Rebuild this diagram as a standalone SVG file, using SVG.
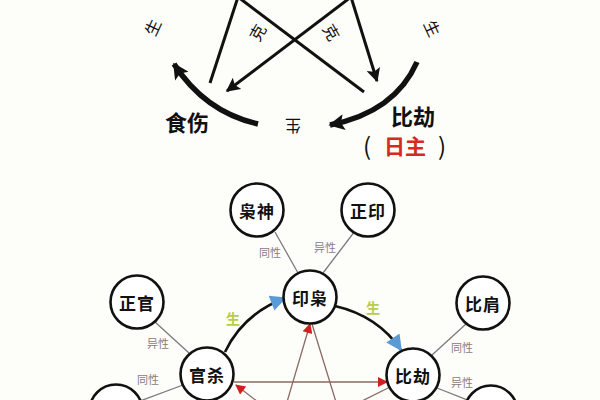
<svg xmlns="http://www.w3.org/2000/svg" width="600" height="400" viewBox="0 0 600 400">
<defs>
<style>
.bg{fill:#fdfdf9}
.thin{stroke:#111;stroke-width:3;fill:none}
.thick{stroke:#111;stroke-width:5.5;fill:none}
.node circle{fill:#fff;stroke:#111;stroke-width:2.6}
.node text{font-family:"Noto Sans CJK SC",sans-serif;font-weight:bold;font-size:17px;letter-spacing:1px;fill:#111;text-anchor:middle;dominant-baseline:central}
.gray{stroke:#7a7a7a;stroke-width:1.3;fill:none}
.red{stroke:#8a6a62;stroke-width:1.3;fill:none}
.lbl{font-family:"Noto Sans CJK SC",sans-serif;font-size:11px;fill:#8a7a86;text-anchor:middle;dominant-baseline:central}
.sheng{font-family:"Noto Sans CJK SC",sans-serif;font-size:14px;font-weight:bold;fill:#b8cc4a;text-anchor:middle;dominant-baseline:central}
.rot{font-family:"Noto Sans CJK SC",sans-serif;font-size:16px;fill:#111;text-anchor:middle;dominant-baseline:central}
.big{font-family:"Noto Sans CJK SC",sans-serif;font-weight:bold;font-size:22px;fill:#111;text-anchor:middle;dominant-baseline:central}
.zhu{font-family:"Noto Sans CJK SC",sans-serif;font-weight:bold;font-size:21px;fill:#d42a20;text-anchor:middle;dominant-baseline:central}
.paren{font-family:"Noto Sans CJK SC",sans-serif;font-size:24px;fill:#111;text-anchor:middle;dominant-baseline:central}
</style>
<marker id="ah" viewBox="0 0 10 10" refX="9" refY="5" markerWidth="18" markerHeight="16" markerUnits="userSpaceOnUse" orient="auto">
<path d="M0,0 L10,5 L0,10 L2,5 z" fill="#111"/>
</marker>
<marker id="ahs" viewBox="0 0 10 10" refX="9" refY="5" markerWidth="16" markerHeight="14" markerUnits="userSpaceOnUse" orient="auto">
<path d="M0,0 L10,5 L0,10 L2,5 z" fill="#111"/>
</marker>
<marker id="blue" viewBox="0 0 10 10" refX="9" refY="5" markerWidth="20" markerHeight="16" markerUnits="userSpaceOnUse" orient="auto">
<path d="M0,0 L10,5 L0,10 z" fill="#5b9bd5"/>
</marker>
<marker id="redh" viewBox="0 0 10 10" refX="9" refY="5" markerWidth="13" markerHeight="10" markerUnits="userSpaceOnUse" orient="auto">
<path d="M0,0 L10,5 L0,10 z" fill="#d0201c"/>
</marker>
</defs>
<rect class="bg" x="0" y="0" width="600" height="400"/>

<g id="connectors">
<line class="thin" x1="238" y1="-3" x2="210" y2="83"/>
<line class="thin" x1="238" y1="-3" x2="364" y2="92"/>
<line class="thin" x1="351" y1="-3" x2="377" y2="81" marker-end="url(#ahs)"/>
<line class="thin" x1="351" y1="-3" x2="227" y2="91" marker-end="url(#ahs)"/>
<path class="thick" d="M258,124 Q205,112 174,64" marker-end="url(#ah)"/>
<path class="thick" d="M417,62 Q395,112 330,125" marker-end="url(#ah)"/>

<line class="gray" x1="275" y1="232" x2="298" y2="273"/>
<line class="gray" x1="355" y1="231" x2="323" y2="273"/>
<line class="gray" x1="155" y1="322" x2="189" y2="353"/>
<line class="gray" x1="466" y1="324" x2="432" y2="355"/>
<line class="gray" x1="183" y1="385" x2="140" y2="401"/>
<line class="gray" x1="437" y1="388" x2="470" y2="401"/>

<path stroke="#111" stroke-width="2.6" fill="none" d="M225,352 Q243,314 285,298" marker-end="url(#blue)"/>
<path stroke="#111" stroke-width="2.6" fill="none" d="M335,306 Q378,316 401,350" marker-end="url(#blue)"/>

<line class="red" x1="234" y1="382" x2="387" y2="382" marker-end="url(#redh)"/>
<line class="red" x1="287" y1="402" x2="310" y2="324" marker-end="url(#redh)"/>
<line class="red" x1="312" y1="324" x2="336" y2="402"/>
<line class="red" x1="258" y1="402" x2="236" y2="385" marker-end="url(#redh)"/>
<line class="red" x1="390" y1="387" x2="360" y2="402"/>
</g>

<g id="top-labels">
<text class="rot" transform="translate(152,27) rotate(-65)">生</text>
<text class="rot" transform="translate(433,28) rotate(65)">生</text>
<text class="rot" transform="translate(293,127) rotate(180)">生</text>
<text class="rot" font-size="15" transform="translate(257,32) rotate(-60)">克</text>
<text class="rot" font-size="15" transform="translate(332,32) rotate(60)">克</text>
</g>

<g id="shishang"><text class="big" x="187" y="121">食伤</text></g>
<g id="bijie-top">
<text class="big" x="413" y="115" font-size="23">比劫</text>
<text class="paren" x="367" y="144">(</text>
<text class="zhu" x="405" y="145">日主</text>
<text class="paren" x="442" y="144">)</text>
</g>

<g id="xiaoshen" class="node"><circle cx="257" cy="210" r="26.5"/><text x="257" y="210">枭神</text></g>
<g id="zhengyin" class="node"><circle cx="368" cy="210" r="26.5"/><text x="368" y="210">正印</text></g>
<g id="yinxiao" class="node"><circle cx="310" cy="297" r="26.5"/><text x="310" y="297">印枭</text></g>
<g id="zhengguan" class="node"><circle cx="137" cy="302" r="26.5"/><text x="137" y="302">正官</text></g>
<g id="bijian" class="node"><circle cx="483" cy="303" r="26.5"/><text x="483" y="303">比肩</text></g>
<g id="guansha" class="node"><circle cx="207" cy="374" r="26.5"/><text x="207" y="374">官杀</text></g>
<g id="bijie" class="node"><circle cx="413" cy="375" r="26.5"/><text x="413" y="375">比劫</text></g>
<g id="node-bl" class="node"><circle cx="116" cy="411" r="26.5"/></g>
<g id="node-br" class="node"><circle cx="491" cy="412" r="26.5"/></g>

<g id="edge-labels">
<text class="lbl" x="270" y="252">同性</text>
<text class="lbl" x="325" y="247">异性</text>
<text class="lbl" x="158" y="343">异性</text>
<text class="lbl" x="148" y="379">同性</text>
<text class="lbl" x="462" y="347">同性</text>
<text class="lbl" x="462" y="382">异性</text>
<text class="sheng" x="233" y="318">生</text>
<text class="sheng" x="373" y="307">生</text>
</g>
</svg>
